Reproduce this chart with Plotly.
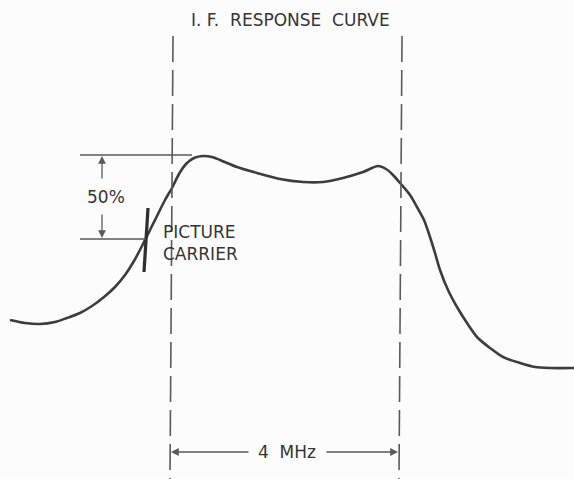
import plotly.graph_objects as go

# I.F. response curve, sampled along the drawing (x to the right, y downward)
curve_x = [10, 25, 40, 55, 67, 80, 92, 104, 115, 125, 134, 142, 150, 158, 165,
           172, 179, 186, 194, 203, 212, 220, 237, 257, 280, 303, 323, 343, 363,
           378, 386, 393, 400, 410, 417, 424, 430, 435, 440, 448, 457, 467, 477,
           490, 503, 520, 535, 550, 574]
curve_y = [320, 323, 324, 322, 318, 313, 306, 297, 287, 275, 261, 246, 230, 214, 200,
           188, 174, 164, 158, 156, 157, 160, 167, 173, 179, 182, 182, 178, 172,
           166, 169, 175, 183, 195, 207, 220, 237, 253, 270, 290, 307, 323, 337,
           348, 357, 363, 367, 368, 368]

# passband edges (dashed markers) and picture carrier
band_edges_x = [173, 402]
band_edges_bottom_x = [170, 399]
carrier_x = 146
peak_level_y = 155
carrier_level_y = 239

title_text = "I. F.  RESPONSE  CURVE"
percent_label = "50%"
carrier_label = "PICTURE<br>CARRIER"
bandwidth_label = "4  MHz"

ink = "#3d3d3d"
line_ink = "#5a5a5a"
font = dict(family="DejaVu Sans", size=17, color="#353535")

fig = go.Figure()

fig.add_trace(go.Scatter(
    x=curve_x, y=curve_y, mode="lines",
    line=dict(color=ink, width=2.6, shape="spline", smoothing=0.8),
    hoverinfo="skip", showlegend=False,
))

shapes = []
# dashed passband edges
for xt, xb in zip(band_edges_x, band_edges_bottom_x):
    shapes.append(dict(type="line", xref="x", yref="y", x0=xt, y0=36, x1=xb, y1=479,
                       line=dict(color=line_ink, width=1.6, dash="26px,8px")))
# picture carrier tick
shapes.append(dict(type="line", xref="x", yref="y", x0=carrier_x + 2, y0=208,
                   x1=carrier_x - 2, y1=272, line=dict(color="#2e2e2e", width=3.2)))
# 50% extension lines
shapes.append(dict(type="line", xref="x", yref="y", x0=80, y0=peak_level_y,
                   x1=192, y1=peak_level_y, line=dict(color=line_ink, width=1.3)))
shapes.append(dict(type="line", xref="x", yref="y", x0=80, y0=carrier_level_y,
                   x1=carrier_x, y1=carrier_level_y, line=dict(color=line_ink, width=1.3)))

annotations = []
arrow_common = dict(xref="x", yref="y", axref="x", ayref="y", showarrow=True,
                    arrowhead=2, arrowsize=1.2, arrowwidth=1.3, arrowcolor=line_ink, text="")
# 50% dimension arrows
annotations.append(dict(x=102, y=peak_level_y + 1, ax=102, ay=180, **arrow_common))
annotations.append(dict(x=102, y=carrier_level_y - 1, ax=102, ay=213, **arrow_common))
# 4 MHz dimension arrows
annotations.append(dict(x=band_edges_bottom_x[0] + 1, y=452, ax=250, ay=452, **arrow_common))
annotations.append(dict(x=band_edges_bottom_x[1] - 1, y=452, ax=325, ay=452, **arrow_common))

annotations.append(dict(x=290, y=20, xref="x", yref="y", text=title_text, showarrow=False,
                        font=font))
annotations.append(dict(x=106, y=197, xref="x", yref="y", text=percent_label, showarrow=False,
                        font=font))
annotations.append(dict(x=161, y=243, xref="x", yref="y", text=carrier_label, showarrow=False,
                        xanchor="left", align="left", font=font))
annotations.append(dict(x=287, y=452, xref="x", yref="y", text=bandwidth_label, showarrow=False,
                        font=font))

fig.update_layout(
    width=574, height=479,
    margin=dict(l=0, r=0, t=0, b=0),
    paper_bgcolor="#fcfcfc", plot_bgcolor="#fcfcfc",
    xaxis=dict(range=[0, 574], visible=False, fixedrange=True),
    yaxis=dict(range=[479, 0], visible=False, fixedrange=True),
    shapes=shapes, annotations=annotations, showlegend=False,
)

fig.write_html("out.html")
